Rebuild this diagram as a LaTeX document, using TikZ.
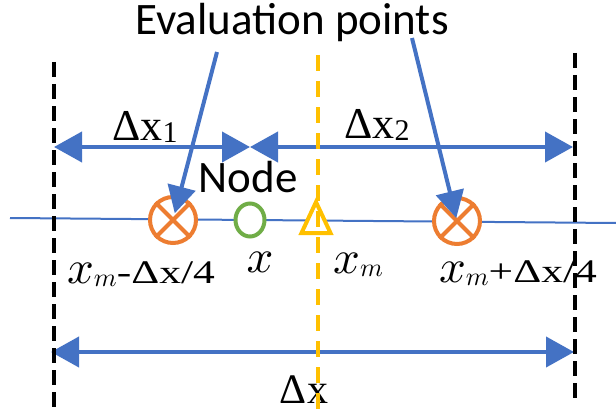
\documentclass[tikz,border=0pt]{standalone}
\usepackage{fontspec}
\usepackage{graphicx}
\setmainfont{Liberation Serif}
\newfontfamily\tnr{Liberation Serif}
\newfontfamily\calibri{Carlito}
\usetikzlibrary{arrows.meta,shapes.geometric}
\definecolor{oblue}{HTML}{4472C4}
\definecolor{oorange}{HTML}{ED7D31}
\definecolor{ogreen}{HTML}{70AD47}
\definecolor{oyellow}{HTML}{FFC000}
\newcommand{\fs}[1]{\fontsize{#1}{#1}\selectfont}
\newcommand{\bx}{\scalebox{4.7}{$x$}}
\newcommand{\xmlabel}{\bx\raisebox{-3pt}{\scalebox{2.6}{$m$}}}
\newcommand{\wide}[1]{\scalebox{1.32}[1]{\tnr\fs{33}#1}}
\begin{document}
\begin{tikzpicture}[x=1pt,y=-1pt,
  blueline/.style={draw=oblue,line width=4pt},
  dimarrow/.style={blueline,{Triangle[length=28pt,width=30pt]}-{Triangle[length=28pt,width=30pt]}},
  pointer/.style={blueline,-{Triangle[length=27pt,width=28pt]}},
  evalpt/.style={circle,draw=oorange,line width=4pt,fill=white,minimum size=46pt,inner sep=0pt},
  crossln/.style={draw=oorange,line width=4pt},
  cellwall/.style={draw=black,line width=4pt,dash pattern=on 15pt off 7pt},
  midline/.style={draw=oyellow,line width=3.5pt,dash pattern=on 16pt off 10pt},
  lbl/.style={anchor=base,inner sep=0pt,font=\tnr},
  sanslbl/.style={anchor=base,inner sep=0pt,font=\calibri\fs{45}},
]
\useasboundingbox (0,0) rectangle (616,412);
% axis line
\coordinate (L0) at (10,218);
\coordinate (L1) at (616,223);
\draw[oblue,line width=2pt] (L0) -- (L1);
% evaluation points
\node[evalpt] (e1) at (173,220) {};
\node[evalpt] (e2) at (457,221) {};
\draw[crossln] (e1.north east) -- (e1.south west) (e1.north west) -- (e1.south east);
\draw[crossln] (e2.north east) -- (e2.south west) (e2.north west) -- (e2.south east);
% node point
\node[ellipse,draw=ogreen,line width=4pt,fill=white,minimum width=29pt,minimum height=33pt,inner sep=0pt] (xn) at (250,220) {};
% midpoint triangle
\coordinate (t0) at (316,202);
\coordinate (t1) at (330.5,233);
\coordinate (t2) at (301.5,233);
\draw[oyellow,line width=4pt,fill=white,line join=miter] (t0) -- (t1) -- (t2) -- cycle;
% labels
\node[sanslbl] (evl) at (292,35) {Evaluation points};
\node[sanslbl] (nodel) at (248,192) {Node};
\node[lbl] (dx1) at (145,140) {\fs{44}Δx\raisebox{-2pt}{\fs{30}1}};
\node[lbl] (dx2) at (377,138) {\fs{44}Δx\raisebox{-2pt}{\fs{30}2}};
\node[lbl] (lm) at (141,283) {\xmlabel\wide{-Δx/4}};
\node[lbl] (lx) at (260,272) {\bx};
\node[lbl] (lxm) at (358,273) {\xmlabel};
\node[lbl] (lp) at (518,282) {\xmlabel\wide{+Δx/4}};
\node[lbl] (ldx) at (304,403) {\fs{42}Δx};
% pointers
\coordinate (p1) at (217,52);
\coordinate (p2) at (412,38);
\draw[pointer,shorten >=7pt] (p1) -- (e1.center);
\draw[pointer,shorten >=3pt] (p2) -- (e2.center);
% dimension arrows
\coordinate (a0) at (54,147);
\coordinate (a1) at (250,147);
\coordinate (a2) at (573,147);
\coordinate (b0) at (51,352);
\coordinate (b1) at (574,352);
\draw[dimarrow] (a0) -- (a1);
\draw[dimarrow] (a1) -- (a2);
\draw[dimarrow] (b0) -- (b1);
% cell walls and midline
\coordinate (w0t) at (54,62);
\coordinate (w0b) at (54,412);
\coordinate (w1t) at (575,53);
\coordinate (w1b) at (575,402);
\coordinate (mt) at (318,55);
\coordinate (mb) at (318,412);
\draw[midline] (mt) -- (mb);
\draw[cellwall] (w0t) -- (w0b);
\draw[cellwall] (w1t) -- (w1b);
\end{tikzpicture}
\end{document}
